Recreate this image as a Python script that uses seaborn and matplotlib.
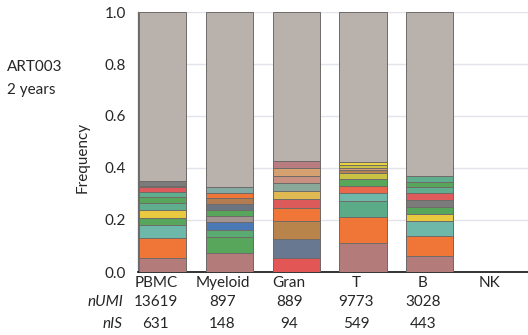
import matplotlib
matplotlib.use("Agg")
import matplotlib.pyplot as plt
import matplotlib.transforms as mtransforms
import seaborn as sns
import numpy as np

# ---------------- data ----------------
categories = ["PBMC", "Myeloid", "Gran", "T", "B", "NK"]
n_umi = ["13619", "897", "889", "9773", "3028", ""]
n_is = ["631", "148", "94", "549", "443", ""]

# segment frequencies, bottom to top (last = grey remainder)
pbmc_freq = [0.053, 0.077, 0.051, 0.028, 0.029, 0.029, 0.023, 0.019, 0.017, 0.005, 0.019, 0.650]
myeloid_freq = [0.074, 0.059, 0.029, 0.029, 0.024, 0.023, 0.022, 0.023, 0.020, 0.023, 0.674]
gran_freq = [0.055, 0.072, 0.069, 0.049, 0.036, 0.032, 0.028, 0.029, 0.029, 0.028, 0.573]
t_freq = [0.110, 0.100, 0.063, 0.030, 0.029, 0.025, 0.023, 0.012, 0.009, 0.011, 0.010, 0.578]
b_freq = [0.062, 0.076, 0.058, 0.026, 0.029, 0.026, 0.026, 0.023, 0.021, 0.023, 0.630]
nk_freq = []

GREY = "#b9b1ac"
pbmc_colors = ["#b37b79", "#ef7637", "#6db8a9", "#58a65b", "#e8c93f", "#5fae8e",
               "#58a65b", "#5fae8e", "#df5b5b", "#c9a4a0", "#7b7b7b", GREY]
myeloid_colors = ["#b37b79", "#58a65b", "#5aab72", "#4a79b5", "#a39391", "#58a65b",
                  "#6a7581", "#b27b52", "#ef7637", "#82aaa2", GREY]
gran_colors = ["#e25656", "#687890", "#b9844b", "#ef7637", "#dc5a5a", "#e1b952",
               "#89a899", "#c99181", "#d5a171", "#b97d81", GREY]
t_colors = ["#b37b79", "#ef7637", "#5bab89", "#6db8a9", "#e8684b", "#58a65b",
            "#c9c243", "#b48153", "#d5a171", "#c9c243", "#e8d142", GREY]
b_colors = ["#b37b79", "#ef7637", "#6db8a9", "#e8c93f", "#58a65b", "#7b7b7b",
            "#df5b5b", "#5fae8e", "#58a65b", "#5fae8e", GREY]
nk_colors = []

all_freq = [pbmc_freq, myeloid_freq, gran_freq, t_freq, b_freq, nk_freq]
all_colors = [pbmc_colors, myeloid_colors, gran_colors, t_colors, b_colors, nk_colors]

# ---------------- figure ----------------
sns.set_theme(style="white")
plt.rcParams["font.family"] = ["Lato", "DejaVu Sans"]
FS = 11

W, H = 528, 335
fig = plt.figure(figsize=(W / 100, H / 100), dpi=100)
ax = fig.add_axes([138 / W, 1 - 272 / H, (W - 138) / W, (272 - 12) / H])

nlayers = max(len(f) for f in all_freq)
padded_f, padded_c = [], []
for f, c in zip(all_freq, all_colors):
    if len(f) == 0:
        padded_f.append([0.0] * nlayers)
        padded_c.append(["#ffffff"] * nlayers)
        continue
    k = nlayers - len(f)
    padded_f.append(f[:-1] + [0.0] * k + [f[-1]])
    padded_c.append(c[:-1] + [c[-2]] * k + [c[-1]])

cum = np.cumsum(np.array(padded_f), axis=1)

for layer in range(nlayers - 1, -1, -1):
    heights = cum[:, layer]
    pal = [padded_c[i][layer] for i in range(len(categories))]
    sns.barplot(x=categories, y=heights, hue=categories, palette=pal,
                order=categories, hue_order=categories, legend=False,
                width=0.708, edgecolor="#6f6a68", linewidth=0.7,
                saturation=1, ax=ax, zorder=3)

ax.set_xlim(-0.371, 5.47)
ax.set_ylim(0, 1.0)
ax.set_yticks([0, 0.2, 0.4, 0.6, 0.8, 1.0])
ax.set_yticklabels(["0.0", "0.2", "0.4", "0.6", "0.8", "1.0"], fontsize=FS)
ax.tick_params(axis="y", length=0, pad=8.5)
ax.set_xticks([])
ax.set_xlabel("")
ax.set_ylabel("")
ax.grid(axis="y", color="#e3e3ec", linewidth=1.0, zorder=0)
ax.set_axisbelow(True)
for s in ["top", "right"]:
    ax.spines[s].set_visible(False)
ax.spines["left"].set_color("#6a6a6a")
ax.spines["left"].set_linewidth(0.9)
ax.spines["bottom"].set_color("#111111")
ax.spines["bottom"].set_linewidth(1.2)

trans = mtransforms.blended_transform_factory(ax.transData, fig.transFigure)
off = -0.105
for i, cat in enumerate(categories):
    ax.text(i + off, 1 - 283 / H, cat, transform=trans, ha="center", va="center", fontsize=FS)
    ax.text(i + off, 1 - 302 / H, n_umi[i], transform=trans, ha="center", va="center", fontsize=FS)
    ax.text(i + off, 1 - 324 / H, n_is[i], transform=trans, ha="center", va="center", fontsize=FS)

fig.text(123 / W, 1 - 302 / H, "nUMI", ha="right", va="center", fontsize=FS, style="italic")
fig.text(123 / W, 1 - 324 / H, "nIS", ha="right", va="center", fontsize=FS, style="italic")

fig.text(83 / W, 1 - 157 / H, "Frequency", rotation=90, ha="center", va="center", fontsize=FS)
fig.text(7 / W, 1 - 67 / H, "ART003", ha="left", va="center", fontsize=FS)
fig.text(7 / W, 1 - 90 / H, "2 years", ha="left", va="center", fontsize=FS)

fig.savefig("out.png", dpi=100)
